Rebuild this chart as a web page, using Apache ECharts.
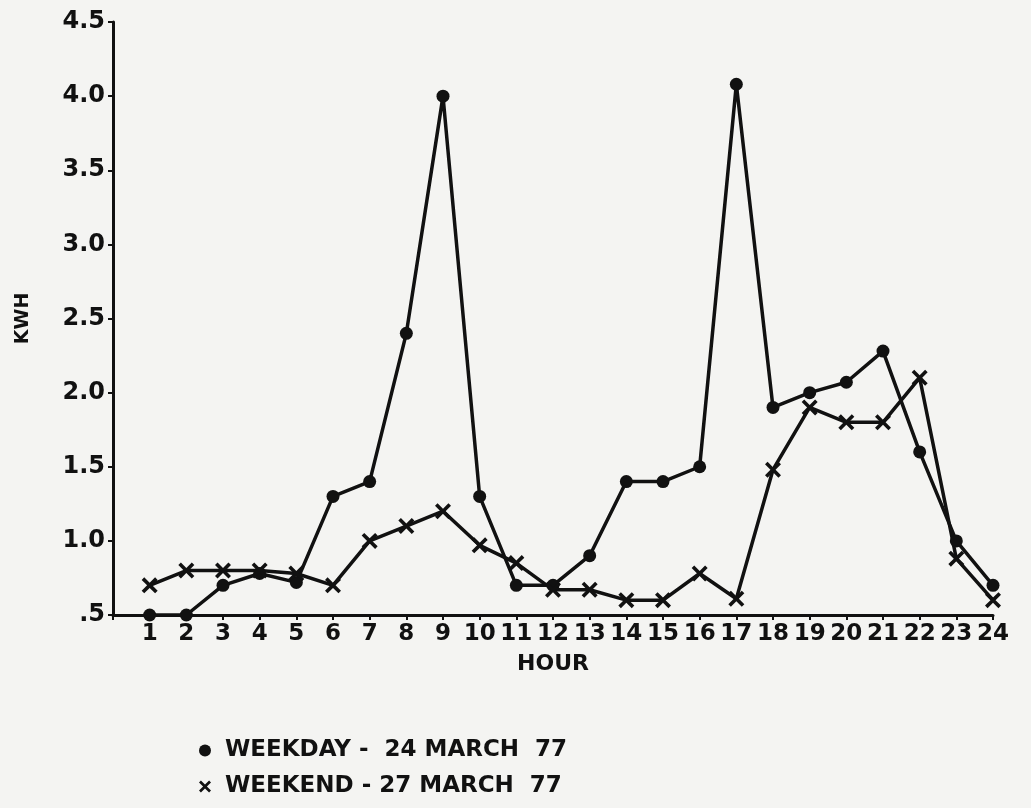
<!DOCTYPE html>
<html>
<head>
<meta charset="utf-8">
<script src="https://cdn.jsdelivr.net/npm/echarts@6/dist/echarts.min.js"></script>
<style>html,body{margin:0;padding:0;background:#f4f4f2;}#c{width:1031px;height:808px;}</style>
</head>
<body>
<div id="c"></div>
<script>
const hours = [1,2,3,4,5,6,7,8,9,10,11,12,13,14,15,16,17,18,19,20,21,22,23,24];
const weekday = [0.5,0.5,0.7,0.78,0.72,1.3,1.4,2.4,4.0,1.3,0.7,0.7,0.9,1.4,1.4,1.5,4.08,1.9,2.0,2.07,2.28,1.6,1.0,0.7];
const weekend = [0.7,0.8,0.8,0.8,0.78,0.7,1.0,1.1,1.2,0.97,0.85,0.67,0.67,0.6,0.6,0.78,0.61,1.48,1.9,1.8,1.8,2.1,0.88,0.6];
const weekdayName = 'WEEKDAY -  24 MARCH  77';
const weekendName = 'WEEKEND - 27 MARCH  77';
const xPath = 'path://M0,1.6 L1.6,0 L5,3.4 L8.4,0 L10,1.6 L6.6,5 L10,8.4 L8.4,10 L5,6.6 L1.6,10 L0,8.4 L3.4,5 Z';
const ink = '#111';
const font = '"DejaVu Sans", "Liberation Sans", Arial, sans-serif';

const chart = echarts.init(document.getElementById('c'));
chart.setOption({
  backgroundColor: '#f4f4f2',
  animation: false,
  grid: {left: 113, right: 38, top: 22, bottom: 193, containLabel: false},
  legend: {
    orient: 'vertical', left: 194, top: 734, itemGap: 13,
    itemWidth: 12, itemHeight: 12,
    textStyle: {color: ink, fontSize: 23, fontWeight: 'bold', fontFamily: font, padding: [0, 0, 0, 9]},
    data: [{name: weekdayName, icon: 'circle'}, {name: weekendName, icon: xPath}]
  },
  xAxis: {
    type: 'value', min: 0, max: 24, interval: 1,
    name: 'HOUR', nameLocation: 'middle', nameGap: 38,
    nameTextStyle: {color: ink, fontSize: 22, fontWeight: 'bold', fontFamily: font},
    axisLine: {show: true, lineStyle: {color: ink, width: 3}},
    axisTick: {show: true, length: 5, lineStyle: {color: ink, width: 2}},
    splitLine: {show: false},
    axisLabel: {color: ink, fontSize: 23, fontWeight: 'bold', fontFamily: font, margin: 8,
      formatter: v => v === 0 ? '' : String(v)}
  },
  yAxis: {
    type: 'value', min: 0.5, max: 4.5, interval: 0.5,
    name: 'KWH', nameLocation: 'middle', nameGap: 80, nameRotate: 90,
    nameTextStyle: {color: ink, fontSize: 19, fontWeight: 'bold', fontFamily: font},
    axisLine: {show: true, lineStyle: {color: ink, width: 3}},
    axisTick: {show: true, length: 5, lineStyle: {color: ink, width: 2}},
    splitLine: {show: false},
    axisLabel: {color: ink, fontSize: 24, fontWeight: 'bold', fontFamily: font, margin: 8,
      formatter: v => v === 0.5 ? '.5' : v.toFixed(1)}
  },
  series: [
    {
      name: weekdayName, type: 'line',
      data: hours.map((h, i) => [h, weekday[i]]),
      symbol: 'circle', symbolSize: 13,
      lineStyle: {color: ink, width: 3.5},
      itemStyle: {color: ink}
    },
    {
      name: weekendName, type: 'line',
      data: hours.map((h, i) => [h, weekend[i]]),
      symbol: xPath, symbolSize: 16,
      lineStyle: {color: ink, width: 3.5},
      itemStyle: {color: ink}
    }
  ]
});
</script>
</body>
</html>
